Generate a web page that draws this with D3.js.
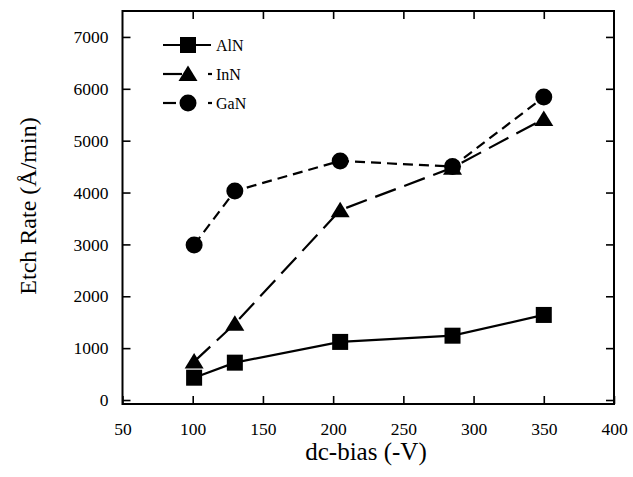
<!DOCTYPE html>
<html>
<head>
<meta charset="utf-8">
<script src="https://cdn.jsdelivr.net/npm/d3@7"></script>
<style>
  body { margin: 0; background: #fff; }
  text { font-family: "Liberation Serif", "DejaVu Serif", serif; fill: #000; }
</style>
</head>
<body>
<svg id="chart" width="633" height="477"></svg>
<script>
// values
var biasV = [101, 130, 205, 285, 350];
var alnRate = [430, 720, 1120, 1240, 1640];
var innRate = [740, 1470, 3660, 4480, 5420];
var ganRate = [2990, 4030, 4610, 4500, 5840];
var xTicks = [50, 100, 150, 200, 250, 300, 350, 400];
var yTicks = [0, 1000, 2000, 3000, 4000, 5000, 6000, 7000];

var series = [
  { name: 'AlN', values: alnRate, marker: 'square', dash: null },
  { name: 'InN', values: innRate, marker: 'triangle', dash: '22,9' },
  { name: 'GaN', values: ganRate, marker: 'circle', dash: '10,6' }
];

var svg = d3.select('#chart');
// note: "top" is taken by window.top, so use plot* names
var plotL = 122.5, plotR = 614, plotT = 11, plotB = 404;

var x = d3.scaleLinear().domain([50, 400]).range([plotL, plotR]);
var y = d3.scaleLinear().domain([-77, 7500]).range([plotB, plotT]);

// frame
svg.append('rect')
  .attr('x', plotL).attr('y', plotT)
  .attr('width', plotR - plotL).attr('height', plotB - plotT)
  .attr('fill', 'none').attr('stroke', '#000').attr('stroke-width', 2);

// ticks point inward on all four sides
var tickLen = 8;
var tickOpts = function (g) {
  g.select('.domain').remove();
  g.selectAll('.tick line').attr('stroke', '#000').attr('stroke-width', 1.6);
};

svg.append('g')
  .attr('transform', `translate(0,${plotB})`)
  .call(d3.axisBottom(x).tickValues(xTicks).tickSizeInner(-tickLen).tickPadding(tickLen + 11).tickFormat(d3.format('d')))
  .call(tickOpts)
  .call(g => g.selectAll('text').attr('font-size', 17.5).attr('font-family', '"Liberation Serif", serif'));

svg.append('g')
  .attr('transform', `translate(0,${plotT})`)
  .call(d3.axisTop(x).tickValues(xTicks.slice(1, -1)).tickSizeInner(-tickLen).tickFormat(''))
  .call(tickOpts);

svg.append('g')
  .attr('transform', `translate(${plotL},0)`)
  .call(d3.axisLeft(y).tickValues(yTicks).tickSizeInner(-tickLen).tickPadding(tickLen + 6).tickFormat(d3.format('d')))
  .call(tickOpts)
  .call(g => g.selectAll('text').attr('font-size', 17.5).attr('font-family', '"Liberation Serif", serif'));

svg.append('g')
  .attr('transform', `translate(${plotR},0)`)
  .call(d3.axisRight(y).tickValues(yTicks).tickSizeInner(-tickLen).tickFormat(''))
  .call(tickOpts);

// lines
var line = d3.line().x((d, i) => x(biasV[i])).y(d => y(d));

svg.selectAll('.series-line')
  .data(series)
  .enter()
  .append('path')
  .attr('class', 'series-line')
  .attr('d', s => line(s.values))
  .attr('fill', 'none')
  .attr('stroke', '#000')
  .attr('stroke-width', 2.2)
  .attr('stroke-dasharray', s => s.dash);

function drawMarker(g, kind) {
  if (kind === 'square') {
    g.append('rect').attr('x', -8).attr('y', -8).attr('width', 16).attr('height', 16).attr('fill', '#000');
  } else if (kind === 'triangle') {
    g.append('path').attr('d', 'M0,-8.5L9.5,7L-9.5,7Z').attr('fill', '#000');
  } else {
    g.append('circle').attr('r', 8.5).attr('fill', '#000');
  }
}

series.forEach(function (s) {
  svg.append('g').selectAll('g')
    .data(s.values)
    .enter()
    .append('g')
    .attr('transform', (d, i) => `translate(${x(biasV[i])},${y(d)})`)
    .each(function () { drawMarker(d3.select(this), s.marker); });
});

// legend
var legend = svg.append('g');
series.forEach(function (s, i) {
  var ly = 45 + i * 29;
  var row = legend.append('g').attr('transform', `translate(0,${ly})`);
  if (i === 0) {
    row.append('line').attr('x1', 163).attr('x2', 211).attr('stroke', '#000').attr('stroke-width', 2.2);
  } else {
    row.append('line').attr('x1', 163).attr('x2', i === 1 ? 182 : 176).attr('stroke', '#000').attr('stroke-width', 2.2);
    row.append('line').attr('x1', 208).attr('x2', 212).attr('stroke', '#000').attr('stroke-width', 2.2);
  }
  var m = row.append('g').attr('transform', 'translate(188,0)');
  drawMarker(m, s.marker);
  row.append('text').attr('x', 216).attr('y', 6).attr('font-size', 16).text(s.name);
});

// axis titles
svg.append('text')
  .attr('x', 366).attr('y', 460)
  .attr('text-anchor', 'middle')
  .attr('font-size', 25)
  .text('dc-bias (-V)');

svg.append('text')
  .attr('transform', 'translate(36,206) rotate(-90)')
  .attr('text-anchor', 'middle')
  .attr('font-size', 24)
  .text('Etch Rate (Å/min)');
</script>
</body>
</html>
